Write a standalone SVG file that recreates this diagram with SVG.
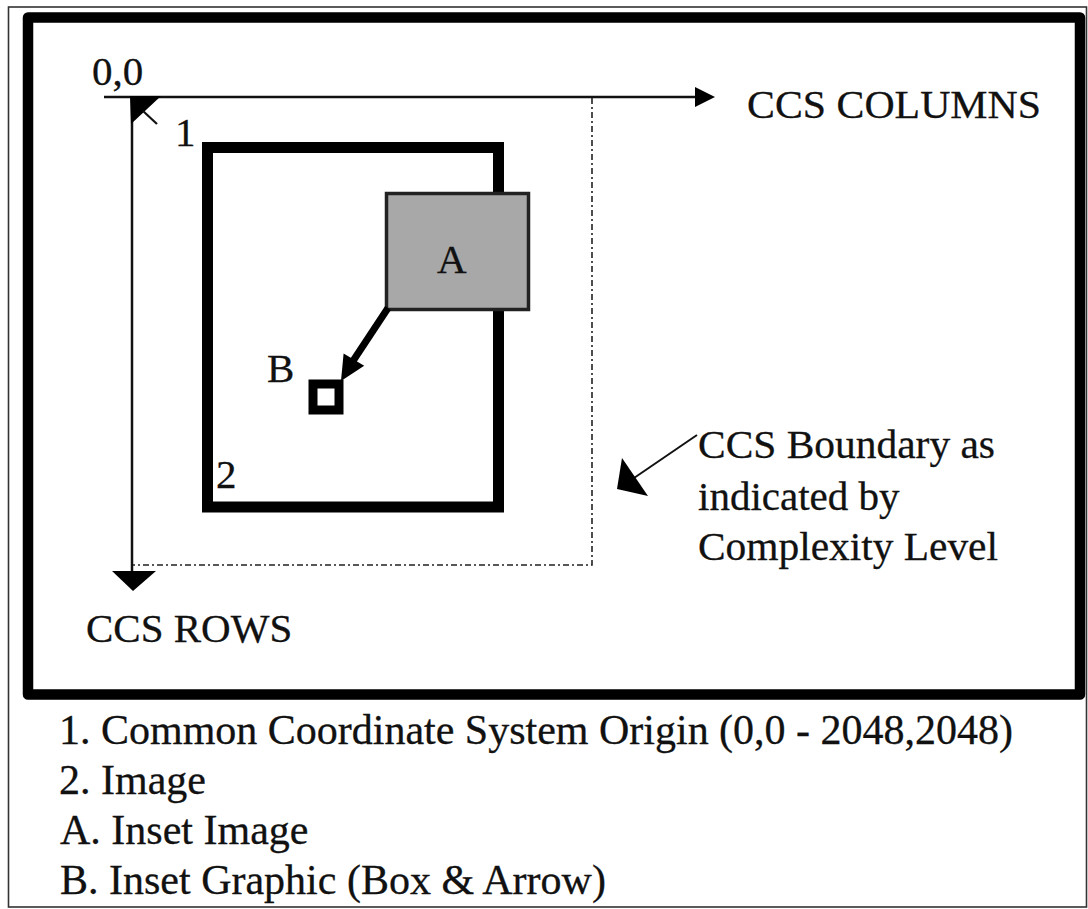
<svg xmlns="http://www.w3.org/2000/svg" width="1088" height="909" viewBox="0 0 1088 909">
<style>
text{font-family:"Liberation Serif","Times New Roman",serif;font-size:41px;fill:#111;stroke:#111;stroke-width:0.3}
.leg{font-size:42px}
.thick{fill:none;stroke:#000;stroke-width:11}
.axis{fill:none;stroke:#111;stroke-width:2.5}
.dash{fill:none;stroke:#222;stroke-width:1.6;stroke-dasharray:6 3 2 3}
.head{fill:#000;stroke:none}
</style>
<rect width="1088" height="909" fill="#fff"/>
<g id="frame">
<rect x="8.5" y="7" width="1078" height="900" fill="none" stroke="#333" stroke-width="1.6"/>
<rect x="28" y="17.5" width="1052" height="677" fill="none" stroke="#000" stroke-width="10.5" stroke-linejoin="round"/>
</g>
<g id="image-2">
<rect class="thick" x="207.5" y="147.5" width="291" height="359.5"/>
<text x="216" y="488">2</text>
</g>
<g id="inset-image-A">
<rect x="386.5" y="193.5" width="142" height="116" fill="#a8a8a8" stroke="#222" stroke-width="3.5"/>
<text x="437" y="273">A</text>
</g>
<g id="inset-graphic-B">
<rect x="313" y="384" width="26" height="26" fill="#fff" stroke="#000" stroke-width="9"/>
<text x="267" y="382">B</text>
</g>
<g id="connectors">
<line class="axis" x1="104" y1="97" x2="700" y2="97"/>
<polygon class="head" points="695,87 715,97 695,107"/>
<line class="axis" x1="132" y1="97" x2="132" y2="575"/>
<polygon class="head" points="112,571 156,571 133,591"/>
<polygon class="head" points="130,96 161,96 131,124"/>
<line stroke="#111" stroke-width="2.2" x1="143" y1="111" x2="157" y2="124"/>
<path class="dash" d="M592,98 V565 H133"/>
<line stroke="#000" stroke-width="7" x1="388" y1="308" x2="351" y2="364"/>
<polygon class="head" points="341,381 343.6,353.4 364.2,365.8"/>
<line stroke="#111" stroke-width="2" x1="697" y1="435" x2="634" y2="478"/>
<polygon class="head" points="622,458 617,489 648,496"/>
</g>
<g id="labels">
<text x="92" y="85">0,0</text>
<text x="175" y="146">1</text>
<text x="747" y="118" textLength="294" lengthAdjust="spacingAndGlyphs">CCS COLUMNS</text>
<text x="86" y="642">CCS ROWS</text>
<text x="698" y="458" textLength="297" lengthAdjust="spacingAndGlyphs">CCS Boundary as</text>
<text x="698" y="510">indicated by</text>
<text x="698" y="560" textLength="300" lengthAdjust="spacingAndGlyphs">Complexity Level</text>
</g>
<g id="legend">
<text class="leg" x="59" y="744" textLength="954" lengthAdjust="spacingAndGlyphs">1. Common Coordinate System Origin (0,0 - 2048,2048)</text>
<text class="leg" x="59" y="794">2. Image</text>
<text class="leg" x="60" y="844">A. Inset Image</text>
<text class="leg" x="60" y="894">B. Inset Graphic (Box &amp; Arrow)</text>
</g>
</svg>
